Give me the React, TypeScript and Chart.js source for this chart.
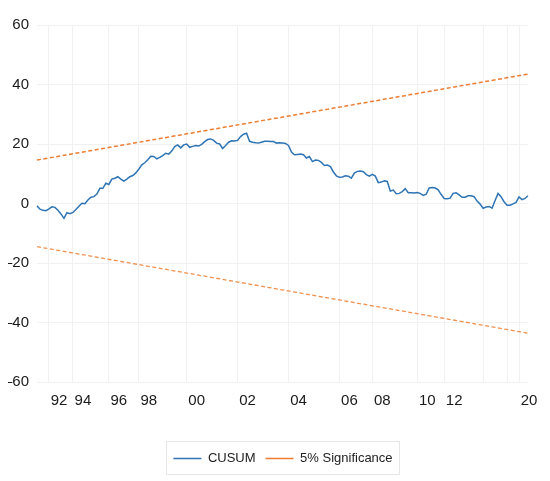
import React, { useEffect, useRef } from 'react';
import { Chart, registerables } from 'chart.js';

Chart.register(...registerables);

// CUSUM statistic per observation
const cusum: number[] = [
  -0.8, -1.9, -2.3, -2.4, -1.8, -1.1, -1.3, -2.3, -3.5, -5.0,
  -3.1, -3.4, -3.0, -2.0, -0.9, 0.1, -0.1, 1.2, 2.1, 2.3,
  3.2, 5.1, 5.1, 6.8, 6.4, 8.2, 8.5, 9.0, 8.2, 7.5,
  8.2, 9.0, 9.4, 10.3, 11.5, 13.0, 13.7, 14.7, 15.9, 15.8,
  15.0, 15.5, 16.1, 16.9, 16.6, 17.6, 19.1, 19.7, 18.7, 19.7,
  20.0, 18.9, 19.2, 19.5, 19.3, 19.9, 20.8, 21.5, 21.7, 21.2,
  20.3, 20.0, 18.5, 19.5, 20.6, 21.1, 21.0, 21.2, 22.5, 23.3,
  23.6, 20.9, 20.6, 20.4, 20.3, 20.6, 20.9, 20.9, 20.8, 20.8,
  20.3, 20.4, 20.3, 20.2, 19.5, 17.3, 16.4, 16.5, 16.6, 16.4,
  15.3, 15.8, 14.1, 14.6, 14.5, 13.8, 12.8, 12.9, 12.4, 10.6,
  9.3, 8.8, 8.9, 9.3, 9.2, 8.5, 10.2, 10.8, 10.9, 10.7,
  9.7, 9.2, 9.8, 9.2, 7.0, 7.2, 7.6, 7.4, 4.2, 4.5,
  3.3, 3.4, 4.0, 5.0, 3.6, 3.6, 3.5, 3.7, 3.4, 2.7,
  3.1, 5.2, 5.4, 5.2, 4.6, 3.0, 1.7, 1.6, 1.8, 3.4,
  3.6, 2.9, 2.1, 2.1, 2.6, 2.6, 2.3, 0.8, -0.2, -1.6,
  -1.2, -1.0, -1.6, 1.0, 3.4, 2.3, 0.6, -0.6, -0.6, -0.1,
  0.4, 2.2, 1.3, 1.7, 2.6,
];

// 5% significance bounds: value at first and last observation
const upperBand: number[] = [14.6, 43.5];
const lowerBand: number[] = [-14.5, -43.6];

// x-axis tick labels and the observation they sit at
const tickIndex: number[] = [4, 12, 24, 34, 50, 67, 84, 101, 112, 127, 136, 161];
const tickText: string[] = ['92', '94', '96', '98', '00', '02', '04', '06', '08', '10', '12', '20'];
const extraGridIndex: number[] = [149, 157];

// y-axis range
const yMin = -60;
const yMax = 60;
const yStep = 20;

const FONT = "'Liberation Sans', Arial, sans-serif";
const LEGEND_SHIFT = 15;

const labels: string[] = cusum.map((_, i) => {
  const k = tickIndex.indexOf(i);
  return k >= 0 ? tickText[k] : '';
});
const gridSet = new Set<number>([...tickIndex, ...extraGridIndex]);

const bandSeries = (band: number[]) =>
  cusum.map((_, i) => (i === 0 ? band[0] : i === cusum.length - 1 ? band[1] : null));

const legendFrame = {
  id: 'legendFrame',
  afterLayout(chart: any) {
    const lg = chart.legend;
    if (!lg) return;
    lg.left += LEGEND_SHIFT;
    lg.right += LEGEND_SHIFT;
  },
  afterDraw(chart: any) {
    const lg = chart.legend;
    const boxes = lg && lg.legendHitBoxes;
    if (!boxes || !boxes.length) return;
    const ctx = chart.ctx;
    const l = Math.min(...boxes.map((b: any) => b.left)) - 7;
    const r = Math.max(...boxes.map((b: any) => b.left + b.width)) + 7;
    const cy = boxes[0].top + boxes[0].height / 2;
    if (!isFinite(l) || !isFinite(r) || !isFinite(cy)) return;
    ctx.save();
    ctx.strokeStyle = '#e6e6e6';
    ctx.lineWidth = 1;
    ctx.strokeRect(Math.round(l) + 0.5, Math.round(cy - 18) + 0.5, Math.round(r - l), 33);
    ctx.restore();
  },
};

export default function App() {
  const ref = useRef<HTMLCanvasElement | null>(null);

  useEffect(() => {
    if (!ref.current) return;
    const chart = new Chart(ref.current, {
      type: 'line',
      data: {
        labels,
        datasets: [
          {
            label: 'CUSUM',
            data: cusum,
            borderColor: '#2F74B5',
            backgroundColor: '#2F74B5',
            borderWidth: 1.5,
            pointRadius: 0,
            tension: 0,
            fill: false,
          },
          {
            label: '5% Significance',
            data: bandSeries(upperBand),
            borderColor: '#ED7D31',
            backgroundColor: '#ED7D31',
            borderWidth: 1.5,
            borderDash: [4, 2.5],
            pointRadius: 0,
            spanGaps: true,
            fill: false,
          },
          {
            label: 'lower',
            data: bandSeries(lowerBand),
            borderColor: '#F0904E',
            backgroundColor: '#F0904E',
            borderWidth: 1.3,
            borderDash: [4, 2.5],
            pointRadius: 0,
            spanGaps: true,
            fill: false,
          },
        ],
      },
      options: {
        animation: false,
        responsive: false,
        events: [],
        layout: { padding: { top: 12, right: 14, bottom: 6, left: 0 } },
        plugins: {
          tooltip: { enabled: false },
          legend: {
            position: 'bottom',
            labels: {
              usePointStyle: true,
              pointStyle: 'line',
              pointStyleWidth: 28,
              padding: 10,
              color: '#222',
              font: { family: FONT, size: 13 },
              filter: (item: any) => item.datasetIndex !== 2,
            },
          },
        },
        scales: {
          x: {
            type: 'category',
            offset: false,
            border: { display: false },
            grid: {
              drawTicks: false,
              color: (ctx: any) => (gridSet.has(ctx.index) ? '#f1f1f1' : 'rgba(0,0,0,0)'),
            },
            ticks: {
              autoSkip: false,
              maxRotation: 0,
              minRotation: 0,
              labelOffset: 10,
              padding: 10,
              color: '#1a1a1a',
              font: { family: FONT, size: 15 },
            },
            afterFit: (s: any) => {
              s.height = 60;
            },
          },
          y: {
            min: yMin,
            max: yMax,
            border: { display: false },
            grid: { drawTicks: false, color: '#f1f1f1' },
            ticks: {
              stepSize: yStep,
              padding: 8,
              color: '#1a1a1a',
              font: { family: FONT, size: 15 },
              callback: (v: any) => (Number(v) < 0 ? '\u2013' + Math.abs(Number(v)) : String(v)),
            },
            afterFit: (s: any) => {
              s.width = 29;
            },
          },
        },
      },
      plugins: [legendFrame],
    } as any);
    return () => chart.destroy();
  }, []);

  return (
    <div style={{ width: 534, height: 473 }}>
      <canvas ref={ref} width={534} height={473} style={{ display: 'block' }} />
    </div>
  );
}
